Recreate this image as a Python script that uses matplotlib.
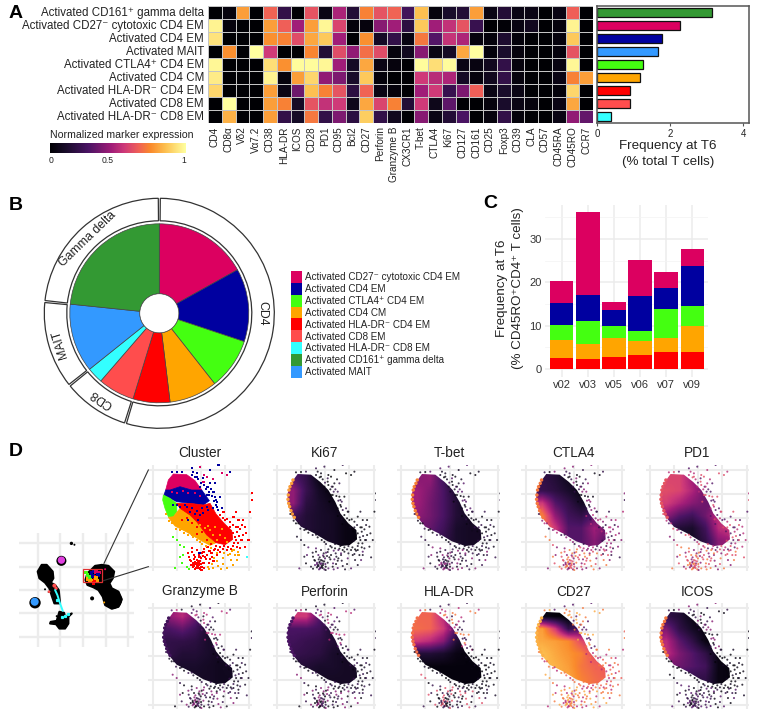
import numpy as np
import matplotlib
matplotlib.use("Agg")
import matplotlib.pyplot as plt
from matplotlib.colors import LinearSegmentedColormap
from matplotlib.patches import Wedge, Polygon, Circle, Rectangle
from matplotlib.lines import Line2D

plt.rcParams['font.family'] = ['Liberation Sans', 'DejaVu Sans']

W, H = 762, 719
# ---------------- data ----------------
clusters = ["Activated CD161⁺ gamma delta", "Activated CD27⁻ cytotoxic CD4 EM",
            "Activated CD4 EM", "Activated MAIT", "Activated CTLA4⁺ CD4 EM",
            "Activated CD4 CM", "Activated HLA-DR⁻ CD4 EM", "Activated CD8 EM",
            "Activated HLA-DR⁻ CD8 EM"]
cluster_colors = ["#339933", "#DC0060", "#0000A0", "#3399FF", "#44FF11",
                  "#FFA500", "#FF0000", "#FF4D4D", "#33FFFF"]
markers = ["CD4", "CD8α", "Vδ2", "Vα7.2", "CD38", "HLA-DR", "ICOS", "CD28", "PD1", "CD95",
           "Bcl2", "CD27", "Perforin", "Granzyme B", "CX3CR1", "T-bet", "CTLA4", "Ki67",
           "CD127", "CD161", "CD25", "Foxp3", "CD39", "CLA", "CD57", "CD45RA", "CD45RO", "CCR7"]
expr_gd = [0, .03, .78, 0, .66, .2, 0, .62, .05, .47, .15, .72, .62, .66, .25, .85, .03, .12, .15, .78, .05, .15, .05, .05, 0, .05, .65, 0]
expr_cyt = [.97, .03, 0, 0, .78, .65, .45, .78, .98, .58, .02, .03, .4, .45, .18, .87, .45, .52, .62, .22, 0, .01, .04, .08, 0, .03, .97, 0]
expr_em = [.93, 0, 0, 0, .75, .72, .6, .8, .87, .45, 0, .75, .1, .2, .04, .7, .3, .53, .48, .03, .02, .13, .02, 0, 0, .03, .87, 0]
expr_mait = [0, .75, 0, 1, .55, 0, 0, .73, .15, .6, .42, .68, .6, .03, .08, .4, .05, .1, .8, 1, .02, .12, .03, 0, 0, .03, .62, 0]
expr_ctla = [.98, 0, 0, 0, .92, .75, .99, .99, .98, .45, .1, .8, .05, .03, 0, .99, .92, .99, .05, .04, .08, .2, .03, 0, 0, .04, .98, 0]
expr_cm = [.95, 0, 0, 0, .97, .03, .78, .9, .42, .38, .12, .87, .02, 0, 0, .55, .5, .48, .1, .03, .08, .2, .03, 0, 0, .05, .72, .78]
expr_dr4 = [.9, 0, 0, 0, .78, .05, .35, .85, .72, .62, .18, .66, .05, .02, 0, .45, .55, .22, .38, .65, .05, .12, .05, 0, 0, .02, .9, 0]
expr_cd8 = [0, 1, 0, 0, .78, .72, .1, .62, .52, .55, .07, .8, .58, .72, .15, .55, .07, .32, 0, 0, .03, .12, .05, .03, 0, .05, .8, 0]
expr_dr8 = [0, .82, 0, 0, .78, .2, .1, .7, .2, .38, .18, .88, .2, .08, 0, .4, .05, .15, .28, 0, .03, .2, .02, 0, 0, .05, .42, .33]
freq_t6 = [3.15, 2.28, 1.78, 1.67, 1.25, 1.17, .90, .89, .39]

pie_order = [1, 2, 4, 5, 6, 7, 8, 3, 0]
legend_order = [1, 2, 4, 5, 6, 7, 8, 0, 3]
ring_names = ["CD4", "CD8", "MAIT", "Gamma delta"]
ring_members = [[1, 2, 4, 5, 6], [7, 8], [3], [0]]
ring_label_angle = [90, 214, 253, 316]

patients = ["v02", "v03", "v05", "v06", "v07", "v09"]
c_red = [2.46, 2.2, 2.85, 3.2, 4.0, 3.9]
c_orange = [4.24, 3.6, 4.35, 3.3, 3.15, 6.1]
c_green = [3.45, 5.2, 2.8, 2.3, 6.7, 4.5]
c_blue = [5.15, 6.15, 3.6, 8.1, 4.95, 9.2]
c_pink = [4.9, 19.0, 1.8, 8.3, 3.65, 3.9]

# Embedding coordinates of panel D (3x pixel units, no unit in the original)
umap_grid_x = [113, 181, 249, 317, 385]
umap_grid_y = [310, 380, 450, 520, 590]
blob_right = [(285, 378), (305, 375), (325, 378), (342, 395), (338, 415), (328, 430), (335, 445), (355, 455),
              (365, 478), (355, 500), (335, 506), (315, 495), (308, 470), (295, 450), (280, 442), (262, 435),
              (256, 420), (262, 400), (275, 388)]
blob_left = [(125, 375), (140, 375), (158, 395), (160, 415), (152, 428), (165, 435), (176, 450), (180, 490),
             (163, 490), (156, 470), (148, 445), (135, 428), (118, 415), (113, 395)]
blob_bottom = [(172, 535), (178, 515), (192, 518), (195, 530), (215, 520), (205, 530), (205, 550), (195, 565),
               (178, 565), (168, 552), (150, 550), (152, 545), (170, 542)]
small_blobs_x = [214, 223, 184, 105, 276, 135, 146, 170, 340, 135, 187]
small_blobs_y = [311, 315, 363, 488, 475, 448, 456, 528, 480, 398, 548]
small_blobs_r = [5, 3, 15, 17, 6, 3, 3, 3, 26, 21, 18]
tint_x = [184, 104, 163, 168, 147, 315, 312]
tint_y = [361, 485, 437, 445, 455, 388, 487]
tint_r = [11, 12, 6, 5, 4, 3, 3]
tint_c = ["#E040E0", "#3399FF", "#FF4D4D", "#FF4D4D", "#FF4D4D", "#DC0060", "#FFA500"]
streak_x = [165, 172, 180, 188, 185, 172, 196, 205]
streak_y = [450, 465, 490, 512, 530, 480, 528, 522]
box_dot_x = [258, 262, 268, 274, 280, 288, 296, 262, 270, 278, 286, 294, 268, 276, 284, 292, 280, 288]
box_dot_y = [398, 405, 412, 400, 395, 396, 398, 418, 414, 408, 412, 405, 424, 422, 420, 424, 430, 415]
box_dot_c = [4, 4, 4, 2, 2, 1, 1, 5, 4, 2, 6, 2, 5, 5, 6, 5, 6, 5]

# Dense part of the zoom panels, in the same units
dense_outline = [(520, 102), (560, 104), (588, 126), (612, 150), (633, 186), (648, 220), (672, 250), (696, 270),
                 (698, 298), (676, 315), (650, 318), (610, 304), (570, 280), (530, 260), (505, 230), (490, 190),
                 (490, 160), (500, 130)]
region_pink = [(520, 102), (560, 104), (585, 122), (605, 150), (575, 150), (540, 140), (510, 150), (497, 150), (505, 120)]
region_blue = [(497, 150), (510, 150), (540, 140), (575, 150), (605, 150), (628, 182), (610, 195), (570, 190),
               (530, 185), (510, 175), (492, 165)]
region_green = [(490, 165), (510, 175), (530, 190), (530, 215), (520, 232), (505, 230), (495, 205), (488, 180)]
region_orange = [(505, 232), (520, 230), (540, 205), (580, 225), (590, 245), (620, 285), (648, 308), (630, 316),
                 (600, 300), (560, 276), (525, 258)]
region_red = [(530, 190), (570, 190), (610, 195), (630, 190), (648, 222), (672, 250), (695, 272), (698, 298),
              (675, 314), (648, 308), (620, 285), (590, 245), (570, 225), (540, 205)]

tail_top_x = [580, 600, 620, 630, 655, 665, 690, 645, 680, 590, 575, 610, 630, 640, 660, 650, 665, 612, 638, 622, 586, 670, 648, 625]
tail_top_y = [95, 80, 110, 90, 75, 100, 95, 130, 105, 100, 85, 125, 130, 155, 170, 200, 205, 105, 118, 140, 112, 215, 180, 165]
tail_top_c = [2, 1, 1, 2, 2, 1, 2, 2, 1, 2, 2, 1, 2, 2, 2, 2, 2, 1, 1, 2, 2, 6, 2, 2]
tail_far_x = [755, 755, 750, 715, 725, 700, 735, 740, 722, 745, 708, 728, 738, 720, 712, 735, 715, 728, 700, 690]
tail_far_y = [160, 180, 215, 240, 255, 230, 260, 352, 300, 300, 215, 285, 280, 325, 262, 320, 345, 240, 330, 342]
tail_far_c = [6, 6, 6, 6, 6, 6, 6, 8, 6, 6, 6, 6, 6, 6, 6, 6, 5, 6, 5, 5]
tail_low_x = [575, 582, 590, 598, 605, 612, 620, 628, 636, 570, 578, 586, 594, 602, 610, 618, 626, 634, 580, 588, 596, 604,
              612, 585, 592, 600, 590, 596, 584, 578, 590, 603, 598, 566, 572, 608, 622, 642, 650, 660,
              588, 583, 593, 587, 581, 595, 591, 586, 599, 578, 604, 572, 596, 610, 615, 575, 565, 640, 630, 583]
tail_low_y = [335, 345, 330, 350, 338, 328, 345, 332, 350, 360, 368, 352, 362, 355, 368, 358, 370, 340, 378, 385, 370, 380,
              385, 368, 376, 388, 382, 375, 388, 382, 360, 372, 340, 350, 375, 348, 322, 330, 345, 335,
              372, 378, 380, 384, 374, 384, 370, 365, 364, 372, 390, 362, 346, 336, 352, 325, 338, 362, 358, 358]
tail_low_c = [6] * 32 + [2] + [6] * 27
tail_orange_x = [625, 640, 655, 668, 680, 692, 705, 715, 700, 685, 670, 652, 635, 650, 672, 695, 710, 662, 642, 628]
tail_orange_y = [380, 384, 378, 372, 385, 360, 345, 335, 375, 345, 355, 362, 372, 340, 340, 332, 360, 388, 355, 388]
tail_green_x = [540, 545, 525, 560, 540, 552, 530, 566, 548, 518]
tail_green_y = [350, 370, 385, 380, 315, 322, 300, 386, 345, 290]
fringe_top_x = [595, 602, 612, 618, 628, 636, 625, 642, 648, 600, 610, 590, 575, 545, 530, 515, 633, 645, 640, 655, 620, 605, 652, 615]
fringe_top_y = [118, 128, 135, 148, 155, 168, 140, 182, 195, 140, 115, 110, 105, 95, 96, 97, 148, 170, 205, 210, 165, 155, 185, 185]
fringe_lobe_x = [660, 668, 672, 682, 690, 698, 708, 712, 716, 708, 714, 700, 692, 680, 668, 655, 645, 690, 700, 720, 725, 675, 660, 652, 640,
                 664, 678, 686, 694, 706, 702, 684, 672, 660, 648, 632, 654, 670, 688, 712]
fringe_lobe_y = [225, 235, 215, 238, 245, 255, 262, 275, 288, 300, 310, 318, 328, 330, 328, 330, 326, 262, 280, 268, 300, 240, 240, 238, 228,
                 250, 262, 274, 285, 292, 310, 322, 318, 322, 318, 312, 252, 272, 302, 322]
fringe_low_x = [618, 605, 592, 580, 565, 552, 540, 528, 515, 508, 498, 632, 600, 575, 545, 522]
fringe_low_y = [318, 312, 300, 292, 285, 278, 270, 266, 250, 242, 222, 325, 306, 284, 268, 250]
edge_x = [492, 491, 494, 497, 502, 506, 496, 500, 504, 510, 493]
edge_y = [165, 178, 150, 140, 130, 120, 200, 212, 222, 232, 190]
speckle_blue_x = [560, 575, 590, 605, 620, 585, 600, 570, 555, 610, 625, 640, 595, 540, 530, 565, 520]
speckle_blue_y = [200, 205, 212, 205, 200, 222, 225, 215, 195, 218, 210, 205, 240, 200, 195, 240, 195]
speckle_orange_x = [600, 615, 630, 645, 660, 675, 650, 640, 665, 680, 625]
speckle_orange_y = [255, 265, 270, 262, 285, 295, 300, 285, 268, 305, 258]
speckle_red_x = [560, 575, 590, 605, 545, 620, 590]
speckle_red_y = [235, 250, 262, 275, 240, 300, 282]
speckle_pink_x = [515, 530, 548, 565, 585, 600]
speckle_pink_y = [155, 160, 152, 158, 160, 168]

# marker value grids: columns left to right, rows top to bottom over the dense part
panel_titles = ["Ki67", "T-bet", "CTLA4", "PD1", "Granzyme B", "Perforin", "HLA-DR", "CD27", "ICOS"]
grid_ki67 = [[.3, .2, .05, .03, 0, 0], [.42, .22, .1, .03, 0, 0], [.42, .18, .12, .07, .03, 0],
             [.25, .15, .12, .1, .05, .03], [.15, .15, .12, .1, .05, .03], [.1, .1, .1, .1, .05, .03]]
grid_tbet = [[.4, .42, .25, .05, 0, 0], [.45, .38, .28, .12, 0, 0], [.45, .36, .28, .15, .05, 0],
             [.42, .36, .28, .15, .1, .05], [.35, .33, .25, .12, .1, .1], [.3, .25, .2, .12, .1, .1]]
grid_ctla4 = [[.2, .15, .08, .03, 0, 0], [.22, .18, .12, .05, .03, 0], [.55, .3, .2, .1, .1, .05],
              [.72, .42, .25, .2, .3, .3], [.72, .55, .3, .3, .45, .35], [.6, .5, .3, .3, .4, .3]]
grid_pd1 = [[.58, .58, .45, .3, .1, .1], [.6, .58, .48, .35, .2, .1], [.56, .48, .4, .35, .3, .2],
            [.42, .3, .25, .35, .52, .5], [.2, .15, .12, .25, .5, .55], [.1, .1, .1, .2, .4, .45]]
grid_gzb = [[.42, .5, .35, .05, .03, 0], [.28, .33, .25, .12, .05, .05], [.2, .2, .18, .12, .1, .05],
            [.2, .15, .15, .12, .08, .08], [.12, .12, .12, .1, .08, .1], [.1, .1, .1, .1, .08, .08]]
grid_prf = [[.55, .55, .3, .1, .05, 0], [.28, .28, .25, .12, .1, .05], [.25, .22, .2, .15, .1, .08],
            [.22, .2, .18, .12, .1, .08], [.15, .15, .12, .12, .1, .1], [.1, .1, .1, .1, .1, .1]]
grid_hla = [[.66, .66, .5, .2, .1, 0], [.68, .66, .55, .3, .1, 0], [.55, .5, .4, .15, .05, 0],
            [.15, .15, .12, .05, .03, .03], [.03, .03, .03, .03, .03, .03], [.03, .03, .03, .03, .03, .03]]
grid_cd27 = [[.05, .02, 0, .3, .3, .3], [.78, .55, .2, .3, .3, .2], [.8, .78, .74, .6, .5, .4],
             [.85, .8, .76, .72, .6, .6], [.85, .82, .78, .7, .66, .64], [.8, .8, .8, .72, .68, .65]]
grid_icos = [[.2, .15, .05, 0, 0, 0], [.38, .2, .1, .03, 0, 0], [.5, .32, .2, .05, 0, 0],
             [.52, .38, .3, .2, .05, 0], [.35, .35, .3, .25, .05, .03], [.2, .2, .2, .2, .05, .03]]
# typical values of the sparse points: top, far right, bottom
tail_ki67 = [(.05, .2, 0), (.05, .1, .02), (.05, .3, .1)]
tail_tbet = [(.1, .3, .05), (.08, .2, .05), (.1, .4, .2)]
tail_ctla4 = [(.2, .4, .05), (.4, .2, .5), (.6, .4, .7)]
tail_pd1 = [(.5, .3, .6), (.5, .6, .3), (.6, .7, .4)]
tail_gzb = [(.3, .1, .5), (.1, .2, .05), (.2, .05, .4)]
tail_prf = [(.3, .1, .5), (.1, .2, .05), (.2, .05, .4)]
tail_hla = [(.5, .2, .7), (.05, .1, .02), (.05, .2, .6)]
tail_cd27 = [(.7, .3, .8), (.65, .7, .5), (.7, .5, .8)]
tail_icos = [(.2, .4, .05), (.05, .1, .02), (.2, .3, .05)]
edge_values = [.78, .72, .7, .62, .25, .28, .68, .82, .7]

# ---------------- helpers ----------------
cmap = LinearSegmentedColormap.from_list("expr", [
    (0, "#000004"), (.12, "#1a0c2c"), (.28, "#4a1464"), (.45, "#a01d78"), (.55, "#cf3a78"),
    (.65, "#ef5f58"), (.74, "#fa8a2c"), (.85, "#fdc050"), (1, "#ffffa0")])
fig = plt.figure(figsize=(W / 100, H / 100), dpi=100)


def axpx(x0, y0, x1, y1, **kw):
    return fig.add_axes([x0 / W, 1 - y1 / H, (x1 - x0) / W, (y1 - y0) / H], **kw)


def ftext(x, y, s, **kw):
    return fig.text(x / W, 1 - y / H, s, **kw)


for x, y, s in [(9, 13, "A"), (9, 205, "B"), (483, 203, "C"), (9, 452, "D")]:
    ftext(x, y, s, fontsize=14, fontweight='bold', va='center', ha='left', color='black')

# ---------------- A heatmap ----------------
ax = axpx(208, 6, 593, 123)
expr = np.array([expr_gd, expr_cyt, expr_em, expr_mait, expr_ctla, expr_cm, expr_dr4, expr_cd8, expr_dr8])
ax.pcolormesh(np.arange(len(markers) + 1), np.arange(len(clusters) + 1), expr, cmap=cmap, vmin=0, vmax=1,
              edgecolors='#c4c4c4', linewidth=0.6)
ax.set_ylim(len(clusters), 0)
ax.set_xlim(0, len(markers))
ax.set_xticks(np.arange(len(markers)) + .5, markers, rotation=90, fontsize=7.2, color='#222222')
ax.set_yticks([])
ax.tick_params(length=0, pad=2.5)
for s in ax.spines.values():
    s.set_visible(False)
for k, label in enumerate(clusters):
    ftext(204, 6 + 13 * k + 9.6, label, fontsize=8.3, color='#222222', ha='right', va='baseline')

# colour bar
ax = axpx(49.5, 142.5, 185, 153)
ax.imshow(np.linspace(0, 1, 256)[None, :], cmap=cmap, aspect='auto', extent=(0, 1, 0, 1), vmin=0, vmax=1)
ax.set_yticks([])
ax.set_xticks([.01, .43, .99], ["0", "0.5", "1"], fontsize=6.2, color='#222222')
ax.tick_params(length=0, pad=2)
for s in ax.spines.values():
    s.set_visible(False)
ftext(49.5, 135, "Normalized marker expression", fontsize=7.6, va='center', ha='left', color='#222222')

# ---------------- A bars ----------------
ax = axpx(597, 6, 749, 123)
ax.barh(np.arange(len(freq_t6)), freq_t6, height=.68, color=cluster_colors, edgecolor='#111111', linewidth=.9)
ax.set_ylim(len(freq_t6) - .5, -.5)
ax.set_xlim(0, 4.16)
ax.set_yticks([])
ax.set_xticks([0, 2, 4], ["0", "2", "4"], fontsize=7, color='#222222')
ax.tick_params(axis='x', length=2.5, width=.8, pad=1.5, color='#555555')
for s in ax.spines.values():
    s.set_color('#555555')
    s.set_linewidth(1.1)
ftext(668, 146.5, "Frequency at T6", fontsize=9.6, ha='center', va='center', color='#222222')
ftext(668, 162.5, "(% total T cells)", fontsize=9.6, ha='center', va='center', color='#222222')

# ---------------- B donut ----------------
cx, cy = 159.3, 313.3
ax = axpx(cx - 125, cy - 125, cx + 125, cy + 125)
ax.set_xlim(-125, 125)
ax.set_ylim(-125, 125)
ax.axis('off')
total = sum(freq_t6)
start = 0
cum = {}
for i in pie_order:
    sweep = freq_t6[i] / total * 360
    cum[i] = (start, start + sweep)
    ax.add_patch(Wedge((0, 0), 89.5, 90 - start - sweep, 90 - start, width=70, facecolor=cluster_colors[i],
                       edgecolor='#444444', linewidth=.5))
    start += sweep
ax.add_patch(Circle((0, 0), 19.5, fc='white', ec='#333333', lw=.4))
for name, members, ang in zip(ring_names, ring_members, ring_label_angle):
    a0 = cum[members[0]][0]
    a1 = cum[members[-1]][1]
    ax.add_patch(Wedge((0, 0), 115, 90 - a1 + .5, 90 - a0 - .5, width=22.5, facecolor='white', edgecolor='#333333',
                       linewidth=.9))
    r = np.radians(ang)
    ax.text(103.5 * np.sin(r), 103.5 * np.cos(r), name, rotation=(-ang) % 360, rotation_mode='anchor', ha='center',
            va='center', fontsize=8.8, color='#222222')
# legend
for k, i in enumerate(legend_order):
    y0 = 271 + k * 11.87
    fig.add_artist(Rectangle((290.7 / W, 1 - (y0 + 11.87) / H), 11.3 / W, 11.87 / H, transform=fig.transFigure,
                             fc=cluster_colors[i], ec='none'))
    ftext(305, y0 + 9.2, clusters[i], fontsize=7.1, va='baseline', ha='left', color='#222222')

# ---------------- C stacked bars ----------------
ax = axpx(545, 205, 708, 376.8)
ax.set_xlim(.36, 6.6)
ax.set_ylim(-1.8, 37.85)
ax.set_axisbelow(True)
ax.grid(True, color='#ececec', lw=1.1)
ax.set_yticks([0, 10, 20, 30])
ax.set_yticks([5, 15, 25, 35], minor=True)
ax.grid(True, which='minor', axis='y', color='#f3f3f3', lw=.5)
ax.tick_params(which='both', length=0)
xs = np.arange(1, 7)
bottom = np.zeros(6)
for vals, col in zip([c_red, c_orange, c_green, c_blue, c_pink], ["#FF0000", "#FFA500", "#44FF11", "#0000A0", "#DC0060"]):
    ax.bar(xs, vals, bottom=bottom, width=.9, color=col, linewidth=0)
    bottom = bottom + np.array(vals)
ax.set_xticks(xs, patients, fontsize=8, color='#333333')
ax.set_yticklabels(["0", "10", "20", "30"], fontsize=8, color='#333333')
ax.tick_params(axis='both', pad=2.5)
for s in ax.spines.values():
    s.set_visible(False)
ftext(502, 288, "Frequency at T6", fontsize=9.6, rotation=90, ha='center', va='center', color='#222222')
ftext(518, 288, "(% CD45RO⁺CD4⁺ T cells)", fontsize=9.6, rotation=90, ha='center', va='center', color='#222222')

# ---------------- D overview ----------------
ax = axpx(19, 533, 133.5, 647)
ax.set_xlim(57, 400)
ax.set_ylim(620, 280)
ax.set_xticks(umap_grid_x)
ax.set_yticks(umap_grid_y)
ax.set_axisbelow(True)
ax.grid(True, color='#ececec', lw=1.7)
ax.tick_params(length=0, labelbottom=False, labelleft=False)
for s in ax.spines.values():
    s.set_visible(False)
for poly in (blob_right, blob_left, blob_bottom):
    ax.add_patch(Polygon(poly, closed=True, fc='black', ec='black', lw=1.5, joinstyle='round'))
for x, y, r in zip(small_blobs_x, small_blobs_y, small_blobs_r):
    ax.add_patch(Circle((x, y), r, fc='black', ec='none'))
for x, y, r, c in zip(tint_x, tint_y, tint_r, tint_c):
    ax.add_patch(Circle((x, y), r, fc=c, ec='none'))
ax.plot(streak_x[:4], streak_y[:4], color='#33FFFF', lw=1.4, solid_capstyle='round')
ax.plot(streak_x[4:], streak_y[4:], 's', color='#33FFFF', ms=1.3)
ax.scatter(box_dot_x, box_dot_y, s=7, marker='s', c=[cluster_colors[i] for i in box_dot_c], linewidths=0)
ax.add_patch(Rectangle((250, 388), 55, 37, fc='none', ec='#E03030', lw=.9))
for (x0, y0, x1, y1) in [(312, 370, 445, 90), (310, 422, 445, 380)]:
    fig.add_artist(Line2D([x0 / 3 / W, x1 / 3 / W], [1 - (y0 / 3 + 440) / H, 1 - (y1 / 3 + 440) / H],
                          transform=fig.transFigure, color='#333333', lw=.8))


# ---------------- D panels ----------------
def panel(x0, y0):
    a = axpx(x0, y0, x0 + 103.5, y0 + 105.7)
    a.set_xlim(445, 755)
    a.set_ylim(392, 75)
    a.set_xticks([458, 530, 603, 675, 748])
    a.set_yticks([90, 162, 235, 307, 380])
    a.set_axisbelow(True)
    a.grid(True, color='#ececec', lw=1.5)
    a.tick_params(length=0, labelbottom=False, labelleft=False)
    for s in a.spines.values():
        s.set_visible(False)
    return a


col_x = [148.3, 272.6, 396.9, 521.2, 645.5]
row_y = [465, 603]
ax = panel(col_x[0], row_y[0])
ftext(col_x[0] + 52, 453, "Cluster", fontsize=9.8, ha='center', va='center', color='#222222')
for poly, idx in [(region_pink, 1), (region_blue, 2), (region_green, 4), (region_orange, 5), (region_red, 6)]:
    ax.add_patch(Polygon(poly, closed=True, fc=cluster_colors[idx], ec=cluster_colors[idx], lw=.5))
for xs_, ys_, cs_ in [(tail_top_x, tail_top_y, tail_top_c), (tail_far_x, tail_far_y, tail_far_c),
                      (tail_low_x, tail_low_y, tail_low_c)]:
    ax.scatter(xs_, ys_, s=2.6, marker='s', c=[cluster_colors[i] for i in cs_], linewidths=0, clip_on=False)
for xs_, ys_, idx in [(tail_orange_x, tail_orange_y, 5), (tail_green_x, tail_green_y, 4), (fringe_top_x, fringe_top_y, 2),
                      (fringe_lobe_x, fringe_lobe_y, 6), (fringe_low_x, fringe_low_y, 5),
                      (speckle_blue_x, speckle_blue_y, 2), (speckle_orange_x, speckle_orange_y, 5),
                      (speckle_red_x, speckle_red_y, 6), (speckle_pink_x, speckle_pink_y, 1)]:
    ax.scatter(xs_, ys_, s=2.6, marker='s', c=cluster_colors[idx], linewidths=0)

positions = [(1, 0), (2, 0), (3, 0), (4, 0), (0, 1), (1, 1), (2, 1), (3, 1), (4, 1)]
grids = [grid_ki67, grid_tbet, grid_ctla4, grid_pd1, grid_gzb, grid_prf, grid_hla, grid_cd27, grid_icos]
tails = [tail_ki67, tail_tbet, tail_ctla4, tail_pd1, tail_gzb, tail_prf, tail_hla, tail_cd27, tail_icos]
tail_sets = [(tail_top_x + fringe_top_x, tail_top_y + fringe_top_y, 0),
             (tail_far_x + fringe_lobe_x + fringe_low_x, tail_far_y + fringe_lobe_y + fringe_low_y, 1),
             (tail_low_x + tail_orange_x + tail_green_x, tail_low_y + tail_orange_y + tail_green_y, 2)]
for title, (c, r), g, t, ev in zip(panel_titles, positions, grids, tails, edge_values):
    ax = panel(col_x[c], row_y[r])
    ftext(col_x[c] + 52, [453, 591.5][r], title, fontsize=9.8, ha='center', va='center', color='#222222')
    im = ax.imshow(np.array(g), cmap=cmap, vmin=0, vmax=1, extent=(488, 720, 322, 100), aspect='auto',
                   interpolation='bilinear', zorder=2)
    clip = Polygon(dense_outline, closed=True, transform=ax.transData)
    im.set_clip_path(clip)
    ax.set_xlim(445, 755)
    ax.set_ylim(392, 75)
    ax.scatter(edge_x, edge_y, s=6, c=[ev] * len(edge_x), cmap=cmap, vmin=0, vmax=1, linewidths=0, zorder=3)
    for xs_, ys_, region in tail_sets:
        vals = [t[region][k % 3] for k in range(len(xs_))]
        ax.scatter(xs_, ys_, s=2.2, marker='o', c=vals, cmap=cmap, vmin=0, vmax=1, linewidths=0, alpha=.8, zorder=3)

fig.savefig("out.png", dpi=100)
